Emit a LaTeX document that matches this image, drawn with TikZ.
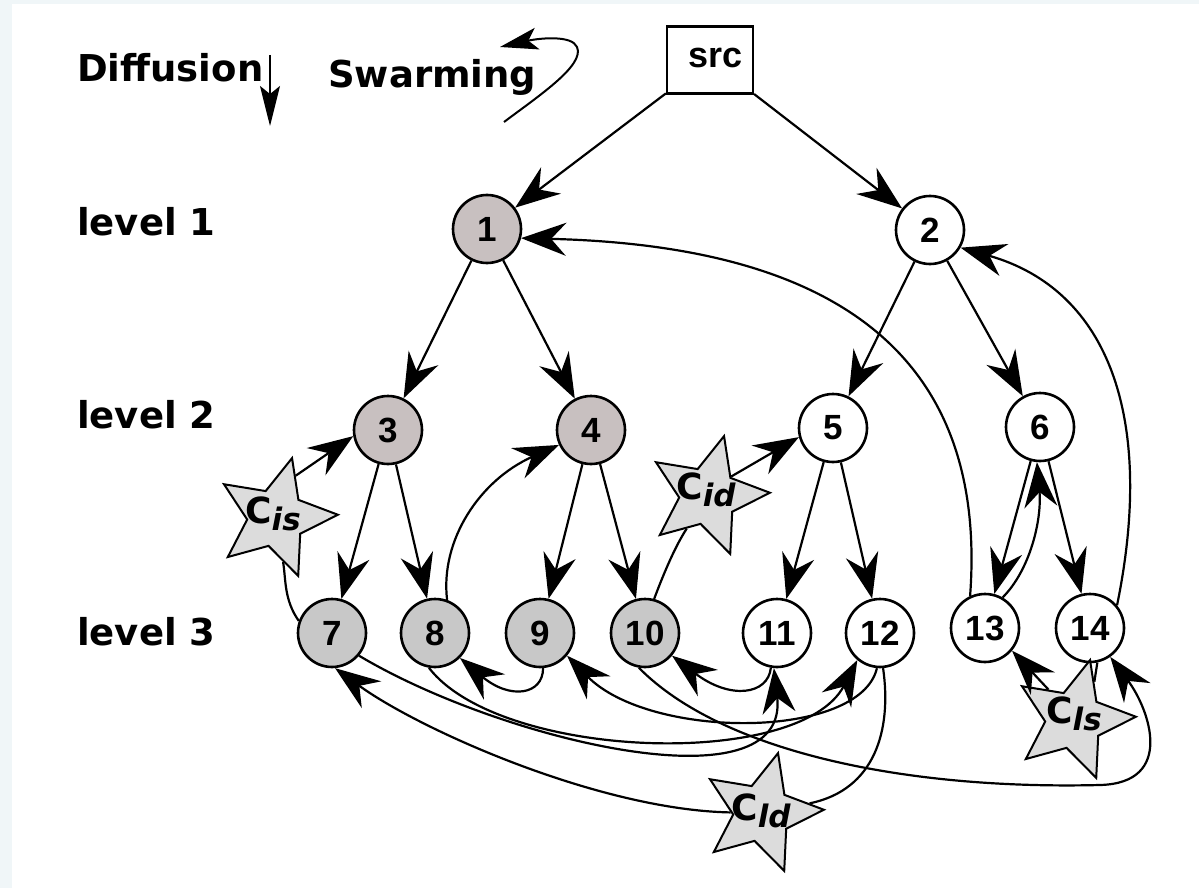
\documentclass[tikz,border=0pt]{standalone}
\usepackage{fontspec}
\setmainfont{DejaVu Sans}
\newfontfamily\numfont{Liberation Sans}
\usetikzlibrary{shapes.geometric,arrows.meta}

\definecolor{pagetint}{HTML}{F0F6F8}
\definecolor{warmgray}{HTML}{C8C0C0}
\definecolor{leafgray}{HTML}{C8C8C8}
\definecolor{starfill}{HTML}{DCDCDC}

\tikzset{
  arr/.style={-{Stealth[length=45pt,width=33pt,inset=15pt]}},
  link/.style={line width=2.2pt},
  vertex/.style={circle, draw, line width=2.6pt, minimum size=68pt, inner sep=0pt,
    font=\numfont\bfseries\fontsize{35}{35}\selectfont},
  upper/.style={vertex, fill=warmgray},
  leaf/.style={vertex, fill=leafgray},
  open/.style={vertex, fill=white},
  intruder/.style={star, star points=5, star point ratio=2.15, minimum size=124pt,
    inner sep=0pt, draw, line width=2pt, fill=starfill, shape border rotate=-15},
  intruderlbl/.style={inner sep=0pt, font=\bfseries\fontsize{36}{36}\selectfont},
  lbl/.style={anchor=base west, inner sep=0pt, font=\bfseries\fontsize{37}{37}\selectfont},
}

\newcommand{\sublbl}[1]{\raisebox{-7pt}{\fontsize{31}{31}\selectfont\bfseries\itshape #1}}

\begin{document}
\begin{tikzpicture}[x=1pt,y=-1pt]
\useasboundingbox (0,0) rectangle (1199,888);
\fill[pagetint] (0,0) rectangle (1199,888);
\fill[white] (12,4) rectangle (1199,888);

% legend
\node[lbl] (difflbl) at (77,82) {Diffusion};
\coordinate (dfTop) at (270,55);
\coordinate (dfTip) at (270,126);
\draw[line width=2pt, -{Stealth[length=40pt,width=20pt,inset=8pt]}] (dfTop) -- (dfTip);

\node[lbl] (swlbl) at (328,88) {Swarming};
\coordinate (swTail) at (504,122);
\coordinate (swTip) at (500,47);
\draw[line width=2pt, -{Stealth[length=38pt,width=22pt,inset=9pt]}]
  (swTail) .. controls (540,95) and (585,65) .. (577,47)
           .. controls (572,35) and (540,38) .. (swTip);

% level captions
\node[lbl] (lv1) at (77,235) {level 1};
\node[lbl] (lv2) at (77,428) {level 2};
\node[lbl] (lv3) at (77,645) {level 3};

% source
\node[draw, line width=2.2pt, minimum width=86pt, minimum height=67pt, inner sep=0pt, fill=white] (src) at (710,60) {};
\node[anchor=base west, inner sep=0pt, font=\numfont\bfseries\fontsize{36}{36}\selectfont] (srctext) at (688,68) {src};

% tree nodes
\node[upper] (n1) at (487,229) {1};
\node[open]  (n2) at (930,230) {2};
\node[upper] (n3) at (388,430) {3};
\node[upper] (n4) at (591,430) {4};
\node[open]  (n5) at (833,428) {5};
\node[open]  (n6) at (1040,427) {6};
\node[leaf]  (n7) at (332,633) {7};
\node[leaf]  (n8) at (435,633) {8};
\node[leaf]  (n9) at (540,633) {9};
\node[leaf]  (n10) at (645,633) {10};
\node[open]  (n11) at (777,633) {11};
\node[open]  (n12) at (880,633) {12};
\node[open]  (n13) at (985,628) {13};
\node[open]  (n14) at (1090,628) {14};

% colluding peers
\node[intruder] (Cis) at (276,518) {};
\node[intruder] (Cid) at (708,496) {};
\node[intruder] (Cld) at (762,813) {};
\node[intruder] (Cls) at (1074,720) {};
\node[intruderlbl] (CisT) at (273,514) {C\sublbl{is}};
\node[intruderlbl] (CidT) at (706,490) {C\sublbl{id}};
\node[intruderlbl] (CldT) at (761,811) {C\sublbl{ld}};
\node[intruderlbl] (ClsT) at (1074,714) {C\sublbl{ls}};

% diffusion tree
\draw[link,arr] (src) -- (n1);
\draw[link,arr] (src) -- (n2);
\draw[link,arr] (n1) -- (n3);
\draw[link,arr] (n1) -- (n4);
\draw[link,arr] (n2) -- (n5);
\draw[link,arr] (n2) -- (n6);
\draw[link,arr] (n3) -- (n7);
\draw[link,arr] (n3) -- (n8);
\draw[link,arr] (n4) -- (n9);
\draw[link,arr] (n4) -- (n10);
\draw[link,arr] (n5) -- (n11);
\draw[link,arr] (n5) -- (n12);
\draw[link,arr] (n6) -- (n13);
\draw[link,arr] (n6) -- (n14);

% swarming feedback
\draw[link,arr] (n13.115) .. controls (990,330) and (800,245) .. (n1.-15);
\draw[link,arr] (n14.40) .. controls (1155,420) and (1110,290) .. (n2.-30);
\draw[link,arr] (n13.60) .. controls (1030,570) and (1042,520) .. (n6.-95);
\draw[link,arr] (n8.70) .. controls (440,540) and (480,480) .. (n4.205);

\draw[link] (n7.160) .. controls (284,600) and (286,580) .. (Cis);
\draw[link,arr] (Cis.65) -- (n3.190);
\draw[link] (n10.75) .. controls (665,570) and (676,545) .. (Cid);
\draw[link,arr] (Cid.40) -- (n5.195);
\draw[link] (n12.-85) .. controls (892,730) and (875,790) .. (Cld);
\draw[link,arr] (Cld) .. controls (600,810) and (420,730) .. (n7.-85);
\draw[link] (n14.-78) -- (Cls.62);
\draw[link,arr] (Cls.130) -- (n13.-40);

\draw[link,arr] (n7.-40) .. controls (500,740) and (790,810) .. (n11.-95);
\draw[link,arr] (n8.-100) .. controls (500,760) and (800,770) .. (n12.-130);
\draw[link,arr] (n9.-85) .. controls (543,695) and (510,700) .. (n8.-45);
\draw[link,arr] (n11.-100) .. controls (768,695) and (730,700) .. (n10.-40);
\draw[link,arr] (n12.-95) .. controls (860,740) and (650,740) .. (n9.-40);
\draw[link,arr] (n10.-100) .. controls (720,750) and (900,790) .. (1100,785)
                 .. controls (1175,783) and (1150,710) .. (n14.-55);
\end{tikzpicture}
\end{document}
